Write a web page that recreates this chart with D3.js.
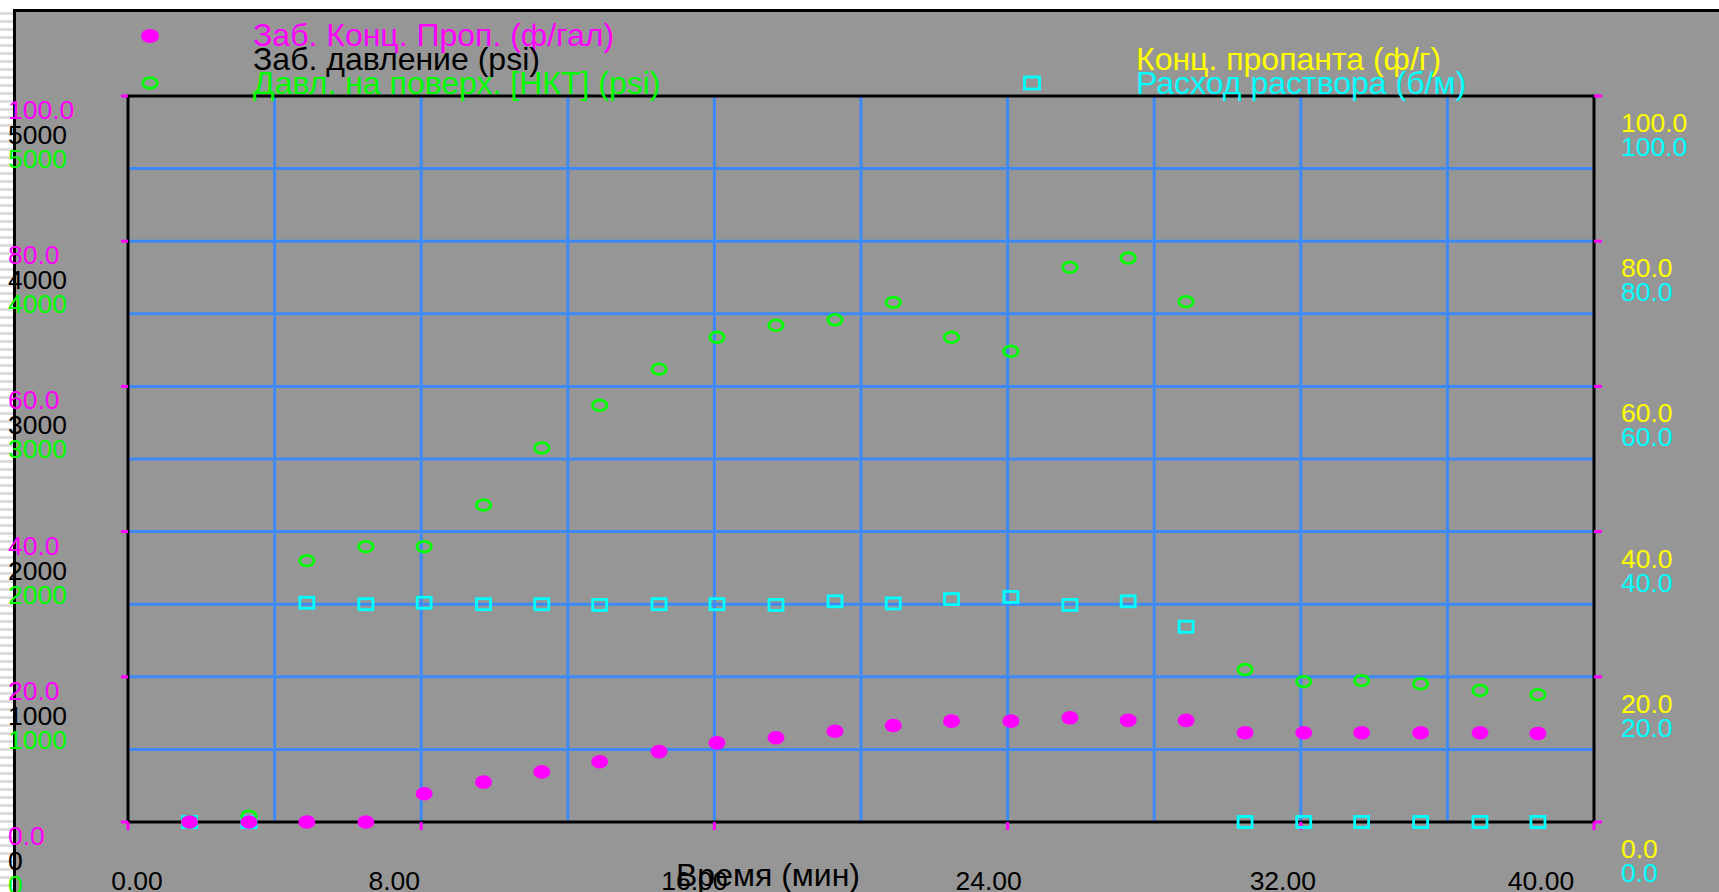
<!DOCTYPE html>
<html>
<head>
<meta charset="utf-8">
<script src="https://cdn.jsdelivr.net/npm/d3@7"></script>
<style>
  html, body { margin: 0; padding: 0; background: #ffffff; overflow: hidden; }
  svg { display: block; }
  text { font-family: "Liberation Sans", Arial, sans-serif; }
</style>
</head>
<body>
<svg id="chart" width="1719" height="892"></svg>
<script>
// ---------- data ----------
const timeMin = [1.68, 3.30, 4.88, 6.49, 8.08, 9.70, 11.29, 12.87, 14.49, 16.07, 17.68, 19.29,
                 20.88, 22.47, 24.09, 25.70, 27.29, 28.87, 30.48, 32.08, 33.66, 35.27, 36.89, 38.47];
// Заб. Конц. Проп. (ф/гал) – magenta, left axis 0..100
const bhPropConc = [0, 0, 0, 0, 3.9, 5.5, 6.9, 8.3, 9.7, 10.9, 11.6, 12.5,
                    13.3, 13.9, 13.9, 14.35, 14.0, 14.0, 12.3, 12.3, 12.3, 12.3, 12.3, 12.2];
// Давл. на поверх. [НКТ] (psi) – green, left axis 0..5000
const surfPressure = [0, 40, 1800, 1896, 1896, 2183, 2576, 2870, 3119, 3338, 3421, 3459,
                      3579, 3338, 3242, 3820, 3884, 3583, 1050, 967, 974, 952, 906, 877];
// Расход раствора (б/м) – cyan, right axis 0..100
const slurryRate = [0, 0, 30.2, 30.0, 30.2, 30.0, 30.0, 29.9, 30.0, 30.0, 29.9, 30.4,
                    30.1, 30.7, 31.0, 29.9, 30.4, 26.9, 0, 0, 0, 0, 0, 0];

const xTickValues = [0, 8, 16, 24, 32, 40];
const xGridValues = [4, 8, 12, 16, 20, 24, 28, 32, 36];
const pctTickValues = [0, 20, 40, 60, 80, 100];
const pctGridValues = [10, 20, 30, 40, 50, 60, 70, 80, 90];
const pressTickValues = [0, 1000, 2000, 3000, 4000, 5000];

const legendLeft = [
  { label: "Заб. Конц. Проп. (ф/гал)", color: "#ff00ff", marker: "dot" },
  { label: "Заб. давление (psi)", color: "#000000", marker: null },
  { label: "Давл. на поверх. [НКТ] (psi)", color: "#00ff00", marker: "ring" }
];
const legendRight = [
  { label: "Конц. пропанта (ф/г)", color: "#ffff00", marker: null },
  { label: "Расход раствора (б/м)", color: "#00ffff", marker: "square" }
];

// ---------- layout ----------
const W = 1719, H = 892;
const plot = { left: 128, right: 1594, top: 96, bottom: 822 };
const BG = "#969696", GRID = "#3d8af7";
const MAG = "#ff00ff", GRN = "#00ff00", CYN = "#00ffff", YEL = "#ffff00";
const TICK_FONT = 26.5, LEGEND_FONT = 32;

const svg = d3.select("#chart");

const x = d3.scaleLinear().domain([0, 40]).range([plot.left, plot.right]);
const yPct = d3.scaleLinear().domain([0, 100]).range([plot.bottom, plot.top]);
const yPress = d3.scaleLinear().domain([0, 5000]).range([plot.bottom, plot.top]);
const yRight = d3.scaleLinear().domain([0, 100]).range([plot.bottom, plot.top]);

// background + window frame
svg.append("rect").attr("width", W).attr("height", H).attr("fill", BG);
svg.append("rect").attr("width", W).attr("height", 9).attr("fill", "#ffffff");
svg.append("rect").attr("x", 0).attr("y", 0).attr("width", 14).attr("height", H).attr("fill", "#ffffff");
const stripes = svg.append("g");
for (let yy = 12; yy < H; yy += 8) {
  stripes.append("rect").attr("x", 0).attr("y", yy).attr("width", 14).attr("height", 3).attr("fill", "#dcdcdc");
}
svg.append("line").attr("x1", 13).attr("x2", W).attr("y1", 10.5).attr("y2", 10.5)
  .attr("stroke", "#000").attr("stroke-width", 3);
svg.append("line").attr("x1", 14.5).attr("x2", 14.5).attr("y1", 9).attr("y2", H)
  .attr("stroke", "#000").attr("stroke-width", 3);

// gridlines
const gGrid = svg.append("g").attr("stroke", GRID).attr("stroke-width", 3);
xGridValues.forEach(t => {
  gGrid.append("line").attr("x1", x(t)).attr("x2", x(t)).attr("y1", plot.top).attr("y2", plot.bottom);
});
pctGridValues.forEach(t => {
  gGrid.append("line").attr("x1", plot.left).attr("x2", plot.right).attr("y1", yPct(t)).attr("y2", yPct(t));
});

// plot border
svg.append("rect")
  .attr("x", plot.left).attr("y", plot.top)
  .attr("width", plot.right - plot.left).attr("height", plot.bottom - plot.top)
  .attr("fill", "none").attr("stroke", "#000").attr("stroke-width", 3);

// magenta tick stubs
const gTicks = svg.append("g").attr("stroke", MAG).attr("stroke-width", 3);
pctTickValues.forEach(t => {
  gTicks.append("line").attr("x1", plot.left - 7).attr("x2", plot.left).attr("y1", yPct(t)).attr("y2", yPct(t));
  gTicks.append("line").attr("x1", plot.right).attr("x2", plot.right + 8).attr("y1", yRight(t)).attr("y2", yRight(t));
});
xTickValues.forEach(t => {
  gTicks.append("line").attr("x1", x(t)).attr("x2", x(t)).attr("y1", plot.bottom).attr("y2", plot.bottom + 8);
});

// left axis labels (stacked beneath each tick)
const gLeft = svg.append("g").attr("font-size", TICK_FONT);
pctTickValues.forEach(t => {
  gLeft.append("text").attr("x", 8).attr("y", yPct(t) + 23).attr("fill", MAG).text(d3.format(".1f")(t));
});
pressTickValues.forEach(p => {
  gLeft.append("text").attr("x", 8).attr("y", yPress(p) + 48).attr("fill", "#000").text(p);
  gLeft.append("text").attr("x", 8).attr("y", yPress(p) + 72).attr("fill", GRN).text(p);
});

// right axis labels
const gRight = svg.append("g").attr("font-size", TICK_FONT);
pctTickValues.forEach(t => {
  gRight.append("text").attr("x", 1621).attr("y", yRight(t) + 36).attr("fill", YEL).text(d3.format(".1f")(t));
  gRight.append("text").attr("x", 1621).attr("y", yRight(t) + 60).attr("fill", CYN).text(d3.format(".1f")(t));
});

// bottom axis labels (the original places them slightly off the ticks)
const xLabelNudge = [9, -27, -20, -19, -18, -53];
const gBottom = svg.append("g").attr("font-size", TICK_FONT).attr("text-anchor", "middle");
xTickValues.forEach((t, i) => {
  gBottom.append("text").attr("x", x(t) + xLabelNudge[i]).attr("y", 890).attr("fill", "#000")
    .text(d3.format(".2f")(t));
});
svg.append("text").attr("x", 768).attr("y", 886).attr("text-anchor", "middle")
  .attr("font-size", LEGEND_FONT).attr("fill", "#000").text("Время (мин)");

// ---------- marks ----------
const pts = timeMin.map((t, i) => ({ t, conc: bhPropConc[i], press: surfPressure[i], rate: slurryRate[i] }));

svg.append("g").selectAll("rect").data(pts).join("rect")
  .attr("x", d => x(d.t) - 7).attr("y", d => yRight(d.rate) - 5.5)
  .attr("width", 14).attr("height", 11)
  .attr("fill", "none").attr("stroke", CYN).attr("stroke-width", 2.8);

svg.append("g").selectAll("ellipse").data(pts).join("ellipse")
  .attr("cx", d => x(d.t)).attr("cy", d => yPress(d.press))
  .attr("rx", 7.2).attr("ry", 5.3)
  .attr("fill", "none").attr("stroke", GRN).attr("stroke-width", 2.8);

svg.append("g").selectAll("ellipse").data(pts).join("ellipse")
  .attr("cx", d => x(d.t)).attr("cy", d => yPct(d.conc))
  .attr("rx", 8.5).attr("ry", 6.8)
  .attr("fill", MAG);

// ---------- legend ----------
const gLeg = svg.append("g").attr("font-size", LEGEND_FONT);
legendLeft.forEach((d, i) => {
  const base = 46 + i * 24;
  gLeg.append("text").attr("x", 253).attr("y", base).attr("fill", d.color).text(d.label);
  const cy = base - 10;
  if (d.marker === "dot") gLeg.append("ellipse").attr("cx", 150).attr("cy", cy).attr("rx", 9).attr("ry", 7).attr("fill", d.color);
  if (d.marker === "ring") gLeg.append("ellipse").attr("cx", 150).attr("cy", cy - 1).attr("rx", 7.2).attr("ry", 5.3)
    .attr("fill", "none").attr("stroke", d.color).attr("stroke-width", 2.8);
});
legendRight.forEach((d, i) => {
  const base = 70 + i * 24;
  gLeg.append("text").attr("x", 1136).attr("y", base).attr("fill", d.color).text(d.label);
  if (d.marker === "square") gLeg.append("rect").attr("x", 1032 - 7.5).attr("y", base - 11 - 6)
    .attr("width", 15).attr("height", 12).attr("fill", "none").attr("stroke", d.color).attr("stroke-width", 2.8);
});
</script>
</body>
</html>
